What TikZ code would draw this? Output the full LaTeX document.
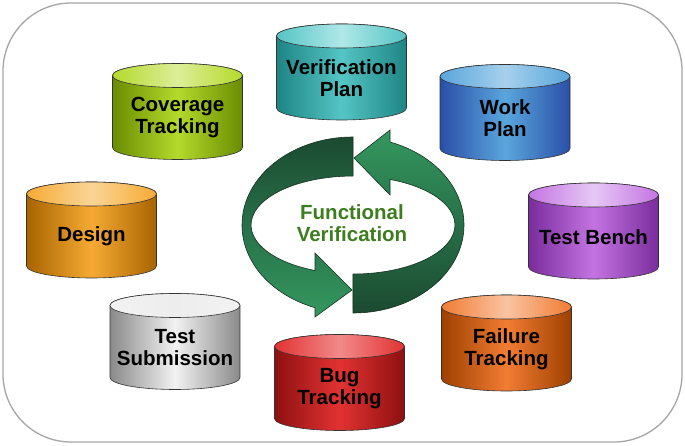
\documentclass[tikz,border=0pt]{standalone}
\usepackage{fontspec}
\setmainfont{Liberation Sans}
\usepackage{xcolor}
\usetikzlibrary{calc}

% cylinder colours: edge, body, top
\definecolor{vpdark}{HTML}{1E8585}
\definecolor{vpmid}{HTML}{55C4C4}
\definecolor{vplight}{HTML}{B0E8E8}
\definecolor{ctdark}{HTML}{6A8C00}
\definecolor{ctmid}{HTML}{B4DA2C}
\definecolor{ctlight}{HTML}{DDEE98}
\definecolor{wpdark}{HTML}{2A4FA8}
\definecolor{wpmid}{HTML}{5AA6DC}
\definecolor{wplight}{HTML}{A6D0EC}
\definecolor{dsdark}{HTML}{A86400}
\definecolor{dsmid}{HTML}{F6AA34}
\definecolor{dslight}{HTML}{FAD596}
\definecolor{tbdark}{HTML}{7A2C9C}
\definecolor{tbmid}{HTML}{C474E2}
\definecolor{tblight}{HTML}{E6C8F4}
\definecolor{tsdark}{HTML}{8A8A8A}
\definecolor{tsmid}{HTML}{F2F2F2}
\definecolor{tslight}{HTML}{EDEDED}
\definecolor{ftdark}{HTML}{9E4000}
\definecolor{ftmid}{HTML}{F27C34}
\definecolor{ftlight}{HTML}{F9C4A2}
\definecolor{btdark}{HTML}{8E1010}
\definecolor{btmid}{HTML}{E23232}
\definecolor{btlight}{HTML}{F28A8A}
% loop colours
\definecolor{loopdark}{HTML}{1B4A31}
\definecolor{looplight}{HTML}{34985F}
\definecolor{loopline}{HTML}{17301F}
\definecolor{fvgreen}{HTML}{3C7D1E}

\tikzset{
  cyltext/.style={font=\fontsize{20.5}{22}\selectfont\bfseries, align=center, text=black},
  cylline/.style={draw=black!80, line width=0.6pt}
}

% #1 name, #2 centre, #3 edge, #4 body, #5 top, #6 label
\newcommand{\dbcylinder}[6]{
  \begin{scope}[shift={#2}]
    \shade[cylline, left color=#3, right color=#3, middle color=#4]
      (-65,36) -- (-65,-36) arc[start angle=180, end angle=360, x radius=65, y radius=12]
      -- (65,36) arc[start angle=0, end angle=180, x radius=65, y radius=12] -- cycle;
    \shade[cylline, left color=#4, right color=#4, middle color=#5]
      (0,36) ellipse[x radius=65, y radius=12];
    \node[cyltext] (#1) at (0,-6) {#6};
  \end{scope}
}

\begin{document}
\begin{tikzpicture}[x=1pt, y=1pt]
  \useasboundingbox (0,0) rectangle (685,445);

  % Frame
  \draw[black!35, line width=1.3pt, rounded corners=68pt, fill=white] (3,3) rectangle (682,442);

  % Repositories round the loop
  \dbcylinder{vplan}{(341.5,373)}{vpdark}{vpmid}{vplight}{Verification\\Plan}
  \dbcylinder{cover}{(177.5,333.5)}{ctdark}{ctmid}{ctlight}{Coverage\\Tracking}
  \dbcylinder{wplan}{(505,332.5)}{wpdark}{wpmid}{wplight}{Work\\Plan}
  \dbcylinder{design}{(91.5,215)}{dsdark}{dsmid}{dslight}{Design}
  \dbcylinder{tbench}{(593.5,214)}{tbdark}{tbmid}{tblight}{Test Bench}
  \dbcylinder{tsubmit}{(175,103.5)}{tsdark}{tsmid}{tslight}{Test\\Submission}
  \dbcylinder{failure}{(506.5,102)}{ftdark}{ftmid}{ftlight}{Failure\\Tracking}
  \dbcylinder{bugs}{(339.5,62.5)}{btdark}{btmid}{btlight}{Bug\\Tracking}

  % Centre of the loop
  \coordinate (hub) at (353,220);

  % Left arrow: from the top, round the left, to the bottom
  \shade[draw=loopline, line width=0.6pt, top color=loopdark, bottom color=looplight]
    ($(hub)+(0,88)$) arc[start angle=90, end angle=250, x radius=111, y radius=88]
    -- (315,128) -- (352,155) -- (315,192)
    -- ($(hub)+(-38,-45.5)$) arc[start angle=248.1, end angle=90, x radius=102, y radius=49] -- cycle;

  % Right arrow: from the bottom, round the right, to the top
  \shade[draw=loopline, line width=0.6pt, top color=looplight, bottom color=loopdark]
    ($(hub)+(0,-88)$) arc[start angle=-90, end angle=70.5, x radius=111, y radius=88]
    -- (390,315) -- (354,287) -- (390,250)
    -- ($(hub)+(37,45.6)$) arc[start angle=68.7, end angle=-90, x radius=102, y radius=49] -- cycle;

  \node[cyltext, text=fvgreen] (loop) at (352,222) {Functional\\Verification};
\end{tikzpicture}
\end{document}
